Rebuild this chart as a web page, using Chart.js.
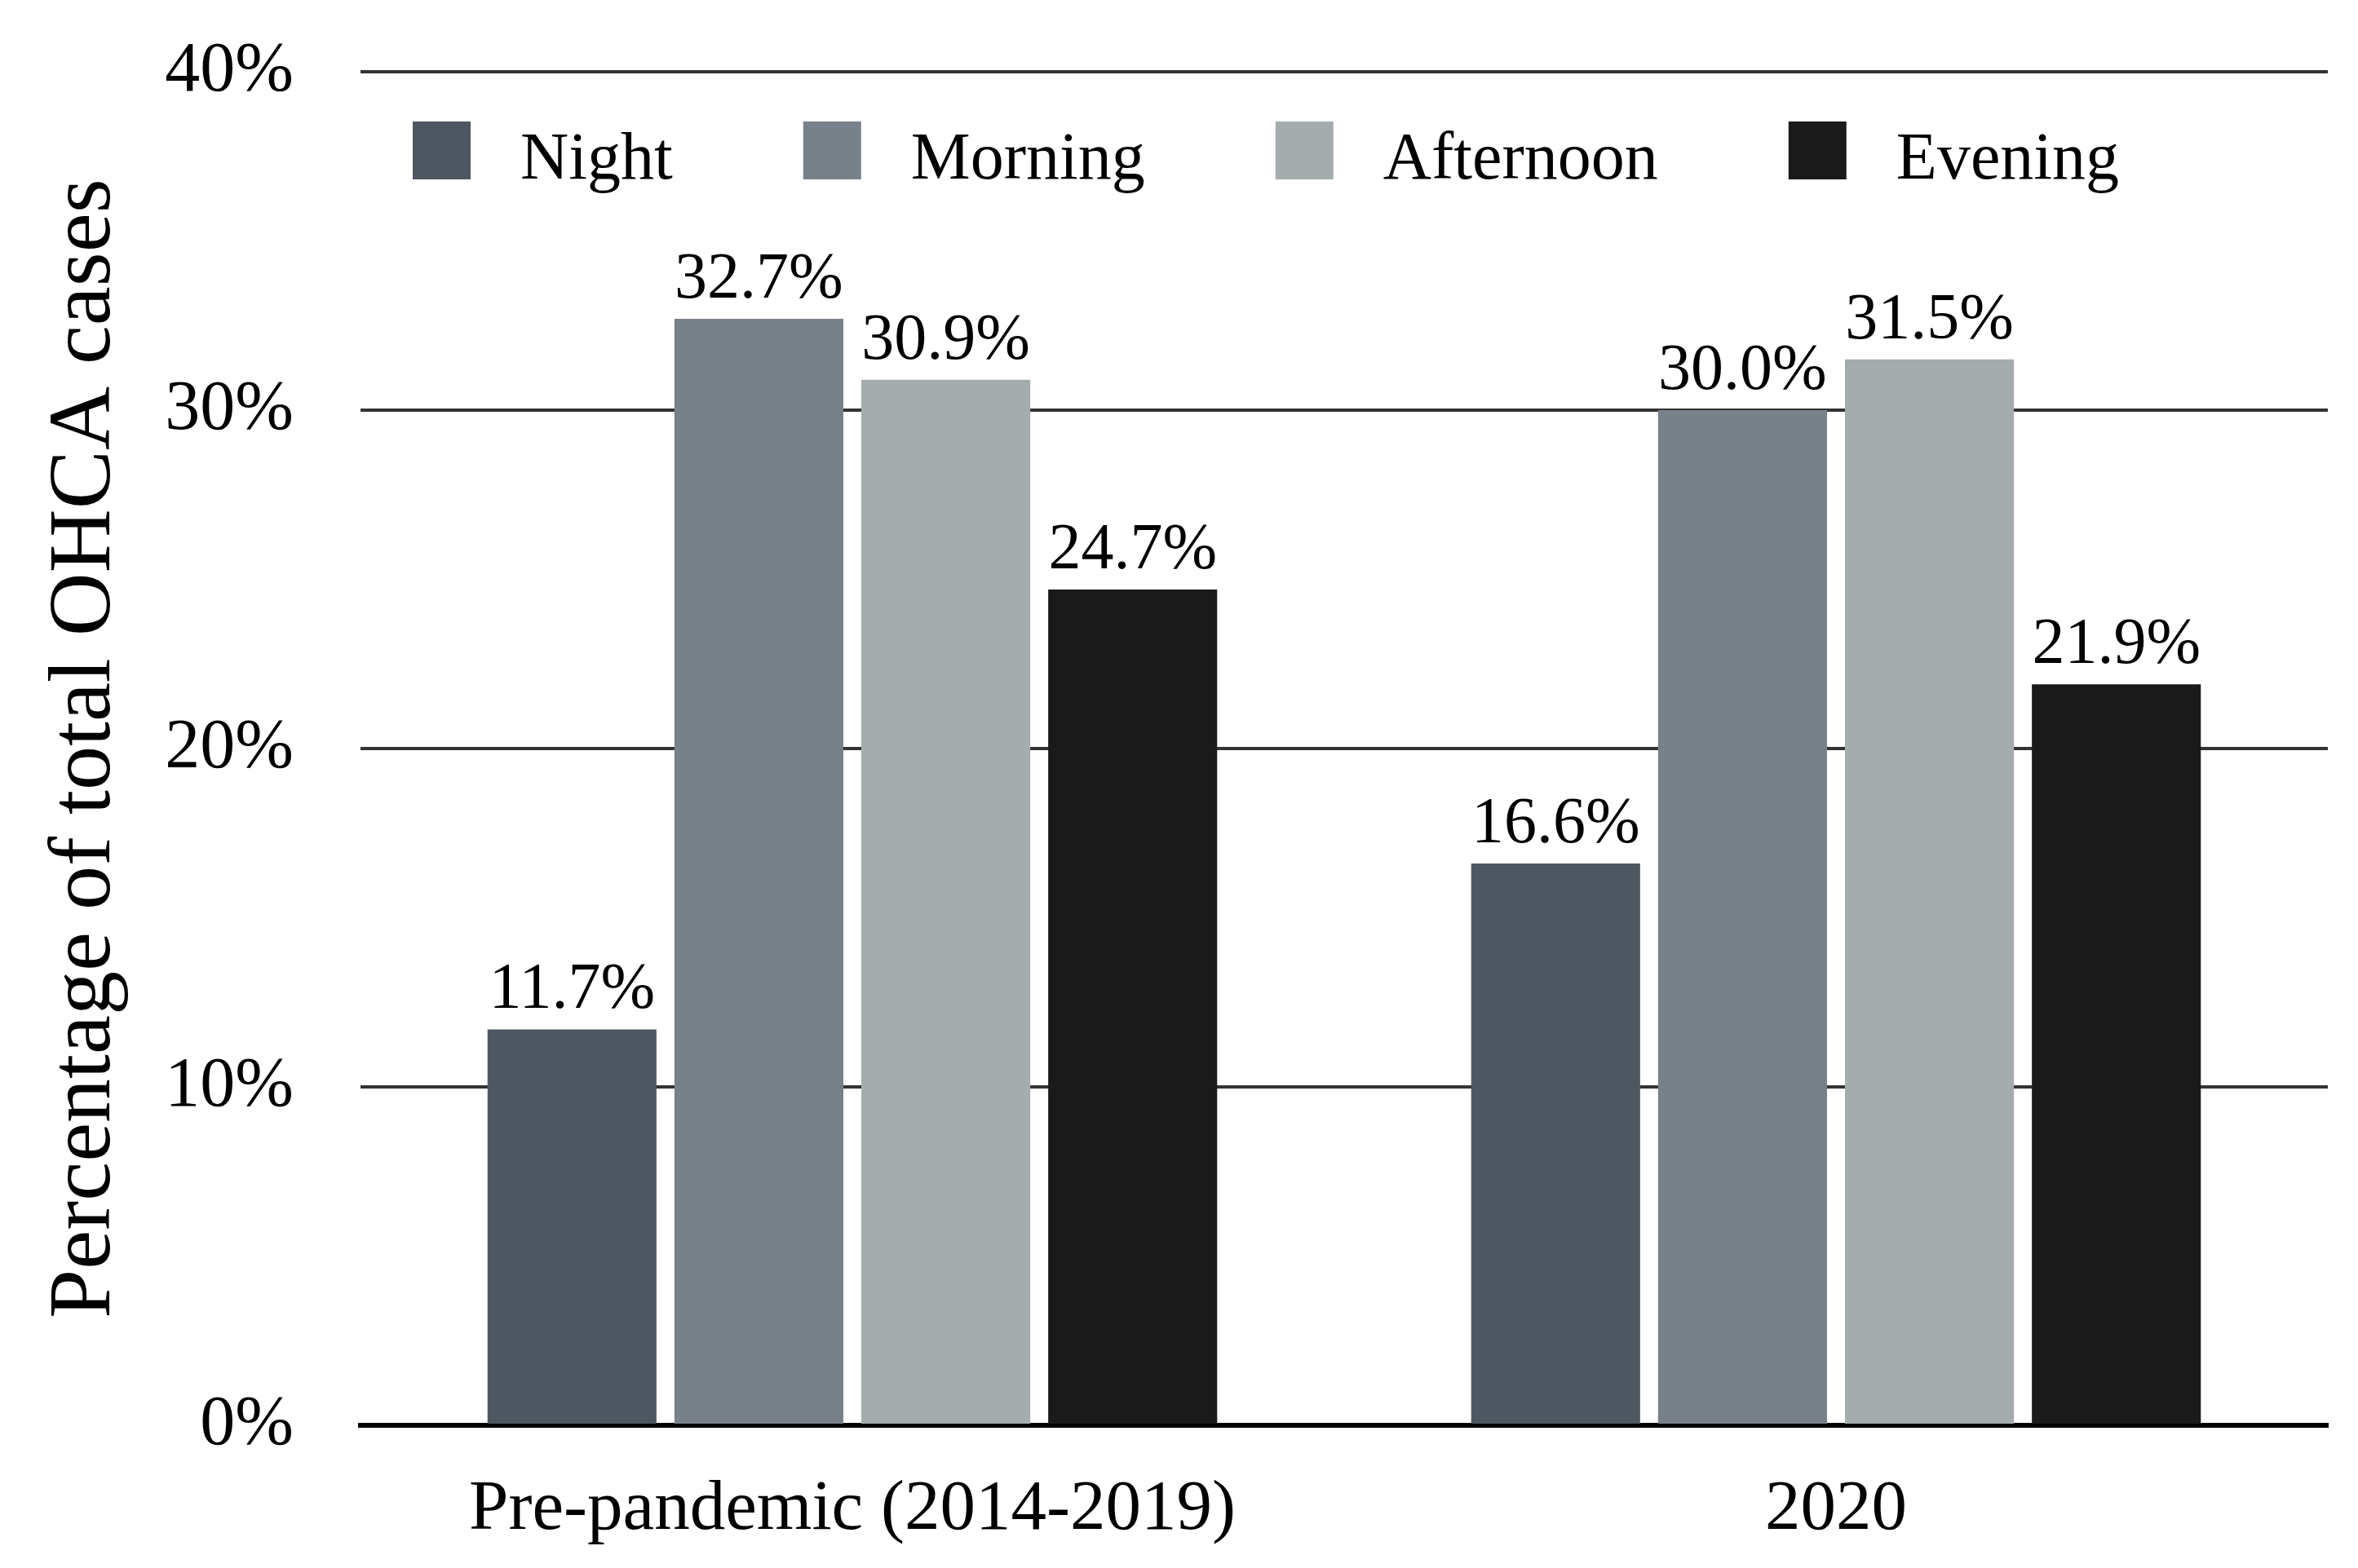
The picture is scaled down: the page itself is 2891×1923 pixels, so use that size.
<!DOCTYPE html>
<html>
<head>
<meta charset="utf-8">
<script src="https://cdn.jsdelivr.net/npm/chart.js@4.4.0/dist/chart.umd.min.js"></script>
<style>
  html, body { margin: 0; padding: 0; background: #fff; }
  #wrap { width: 2891px; height: 1923px; }
</style>
</head>
<body>
<div id="wrap"><canvas id="chart"></canvas></div>
<script>
// chart values
const categories = ['Pre-pandemic (2014-2019)', '2020'];
const seriesNames = ['Night', 'Morning', 'Afternoon', 'Evening'];
const night = [11.7, 16.6];
const morning = [32.7, 30.0];
const afternoon = [30.9, 31.5];
const evening = [24.7, 21.9];
const yTicks = [0, 10, 20, 30, 40];

const colors = ['#4e5761', '#78808a', '#a5acae', '#1a1a1a'];
const serif = "'Liberation Serif', 'Times New Roman', serif";

// value labels above each bar
const barLabels = {
  id: 'barLabels',
  afterDatasetsDraw(chart) {
    const ctx = chart.ctx;
    ctx.save();
    ctx.font = '80px ' + serif;
    ctx.fillStyle = '#000';
    ctx.textAlign = 'center';
    ctx.textBaseline = 'alphabetic';
    chart.data.datasets.forEach((ds, i) => {
      chart.getDatasetMeta(i).data.forEach((bar, j) => {
        ctx.fillText(ds.data[j].toFixed(1) + '%', bar.x, bar.y - 26);
      });
    });
    ctx.restore();
  }
};

// legend drawn inside the plot, under the top gridline
const innerLegend = {
  id: 'innerLegend',
  afterDraw(chart) {
    const ctx = chart.ctx;
    const area = chart.chartArea;
    const box = 71;
    let x = area.left + 64;
    const top = area.top + 61;
    ctx.save();
    ctx.font = '82px ' + serif;
    ctx.textBaseline = 'alphabetic';
    ctx.textAlign = 'left';
    chart.data.datasets.forEach(ds => {
      ctx.fillStyle = ds.backgroundColor;
      ctx.fillRect(x, top, box, box);
      ctx.fillStyle = '#000';
      const tx = x + box + 61;
      ctx.fillText(ds.label, tx, top + box - 1);
      x = tx + ctx.measureText(ds.label).width + 160;
    });
    ctx.restore();
  }
};

const seriesValues = [night, morning, afternoon, evening];

new Chart(document.getElementById('chart'), {
  type: 'bar',
  data: {
    labels: categories,
    datasets: seriesNames.map((name, i) => ({
      label: name,
      data: seriesValues[i],
      backgroundColor: colors[i],
      categoryPercentage: 0.76,
      barPercentage: 0.904
    }))
  },
  options: {
    responsive: true,
    maintainAspectRatio: false,
    devicePixelRatio: 1,
    animation: false,
    layout: { padding: { top: 88, right: 37, left: 0, bottom: 0 } },
    plugins: {
      legend: { display: false },
      tooltip: { enabled: false }
    },
    scales: {
      x: {
        z: 1,
        grid: { display: false },
        border: { display: true, color: '#000', width: 6 },
        ticks: { color: '#000', font: { family: serif, size: 87 }, padding: 44 },
        afterFit(s) { s.height = 175; }
      },
      y: {
        min: 0,
        max: 40,
        afterBuildTicks(s) { s.ticks = yTicks.map(v => ({ value: v })); },
        border: { display: false },
        grid: {
          drawTicks: false,
          color: c => (c.tick && c.tick.value === 0 ? 'rgba(0,0,0,0)' : '#333'),
          lineWidth: 4
        },
        ticks: {
          color: '#000',
          font: { family: serif, size: 86 },
          padding: 82,
          callback: v => v + '%'
        },
        title: {
          display: true,
          text: 'Percentage of total OHCA cases',
          color: '#000',
          font: { family: serif, size: 108 },
          padding: { top: 41, bottom: 0 }
        },
        afterFit(s) {
          s.width = 442;
          s.paddingTop = 0;
          s.paddingBottom = 0;
        }
      }
    }
  },
  plugins: [barLabels, innerLegend]
});
</script>
</body>
</html>
